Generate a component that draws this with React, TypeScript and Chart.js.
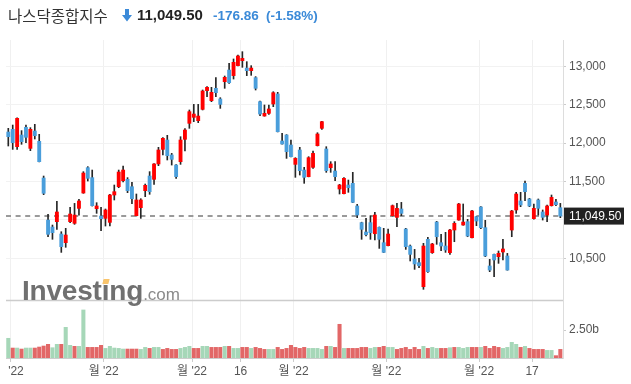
import React, { useEffect, useRef } from 'react';
import { Chart, registerables } from 'chart.js';

Chart.register(...registerables);

// ---- data ----
const opens = [12144,12179,11953,12105,12205,11931,12157,12023,11545,10998,10907,10977,10816,10703,10977,10955,11150,11350,11680,11550,11146,11050,11020,10968,11324,11432,11510,11528,11432,11055,11159,11380,11571,11528,11728,11918,12040,11845,11714,11758,12049,12257,12335,12292,12439,12682,12552,12713,12574,12799,12951,12878,13008,13073,12977,12943,12852,12539,12352,12387,12509,12639,12027,12105,11975,11723,11910,11649,11563,11684,11966,12192,11923,11680,11636,11402,11341,11454,11476,11181,10964,10842,10964,10820,10903,10703,10664,11055,11033,11142,10881,10660,10491,10443,10130,10747,10573,10972,10703,10660,10573,10868,10998,10933,10977,10768,11042,11168,10899,10400,10551,10521,10582,10530,10868,11129,11246,11476,11272,11016,11259,11103,11063,11185,11233,11159];
const highs = [12192,12235,12330,12162,12235,12201,12244,12114,11571,11072,10933,11241,10846,10890,11163,11215,11267,11628,11693,11649,11224,11163,11142,11333,11454,11649,11701,11550,11489,11337,11276,11467,11628,11732,11945,12070,12101,11866,11720,12083,12188,12431,12504,12504,12691,12734,12726,12852,12591,12873,13038,13095,13147,13190,13060,13008,12865,12548,12496,12496,12669,12661,12127,12110,12040,11810,11945,11684,11823,11897,12135,12283,11953,11758,11758,11463,11550,11519,11619,11202,10970,11020,11055,11098,10908,10890,10881,11194,11215,11228,10890,10673,10616,10500,10695,10773,10695,10981,10812,10838,10877,10977,11215,11207,11007,11124,11045,11172,10994,10486,10555,10595,10747,10564,11124,11359,11359,11506,11280,11207,11272,11129,11194,11324,11267,11215];
const lows = [11962,11918,11918,11984,12005,11901,12053,11755,11328,10781,10747,10877,10577,10643,10964,10942,11063,11346,11506,11180,11085,10860,10920,10920,11259,11419,11493,11354,11211,11050,11020,11302,11333,11463,11706,11845,11780,11714,11541,11723,11897,12192,12279,12266,12431,12604,12539,12604,12452,12713,12778,12834,13003,12986,12878,12882,12691,12357,12350,12374,12474,12145,11985,11801,11820,11554,11584,11476,11560,11671,11962,12179,11619,11619,11510,11337,11338,11359,11225,11029,10747,10790,10747,10738,10629,10575,10660,11050,10912,11055,10616,10465,10356,10378,10096,10317,10564,10682,10599,10577,10551,10716,10995,10930,10781,10765,10925,10886,10521,10326,10261,10434,10478,10345,10781,11085,11172,11250,11172,11010,11063,10998,10977,11180,11185,11029];
const closes = [12083,12005,12322,12018,12075,12179,12096,11758,11346,10812,10833,11103,10651,10803,11076,11063,11246,11610,11541,11185,11181,11016,11129,11324,11367,11623,11649,11380,11276,11259,11259,11450,11367,11728,11910,12062,11836,11788,11563,12040,12170,12409,12378,12352,12678,12726,12661,12656,12504,12856,12786,13051,13134,13103,12943,12977,12713,12378,12387,12444,12656,12148,11988,11888,11823,11801,11641,11554,11810,11866,12118,12279,11641,11728,11563,11454,11541,11419,11228,11063,10877,10807,10833,11063,10747,10577,10816,11185,11150,11085,10651,10551,10426,10404,10660,10326,10686,10781,10660,10608,10868,10955,11207,10972,10790,11116,10985,10899,10530,10347,10478,10564,10621,10347,11116,11337,11194,11367,11181,11150,11150,11033,11181,11293,11198,11049.5];
const volumes = [1.76,0.89,0.89,0.80,0.89,0.89,0.89,0.98,1.07,1.22,0.92,1.22,1.22,2.74,1.13,1.04,1.04,4.29,0.95,0.95,0.95,1.13,0.86,1.04,0.89,0.86,0.80,0.80,0.80,0.80,0.77,0.95,0.86,0.95,0.95,0.77,0.86,0.77,0.77,0.86,0.95,1.04,0.86,0.86,1.04,1.04,0.95,0.95,0.95,1.04,1.04,0.86,0.86,0.95,0.95,0.86,0.95,0.86,0.77,0.77,0.77,0.95,0.77,0.86,1.13,0.95,0.86,0.95,0.86,0.86,0.86,0.77,1.04,1.04,0.95,3.01,0.86,0.86,0.86,0.86,0.95,0.95,0.86,0.95,0.95,1.04,0.95,0.95,0.77,0.86,0.95,0.77,0.95,0.77,1.04,0.86,0.95,0.86,0.86,0.86,0.92,0.95,0.95,0.86,0.95,0.95,0.95,0.95,1.04,0.86,1.04,0.95,0.86,0.95,1.40,1.22,0.95,1.04,0.86,0.77,0.77,0.77,0.68,0.68,0.21,0.77];
const volumeUp = [1,0,1,0,1,1,0,0,0,0,1,1,0,1,1,0,1,1,0,0,0,0,1,1,1,1,1,0,0,0,1,1,0,1,1,0,0,0,0,1,1,1,0,0,1,1,0,0,0,1,0,1,1,0,0,1,0,0,0,1,1,0,0,0,0,0,0,0,1,1,1,1,0,1,0,0,1,0,0,0,0,0,1,1,0,0,1,1,0,0,0,0,0,0,1,0,1,1,0,0,1,0,1,1,1,0,0,1,0,0,0,0,1,1,1,1,0,1,0,0,0,0,1,1,0,0];

const xTickPositions = [0.6, 21.6, 41.6, 52.6, 64.6, 85.6, 106.6, 118.6];
const xTickLabels = ["   '22", "월 '22", "월 '22", "16", "월 '22", "월 '22", "월 '22", "17"];
const priceTicks = [10500, 11000, 11500, 12000, 12500, 13000];
const volumeTicks = [2.5];
const lastPriceText = '11,049.50';
const changeText = '-176.86';
const changePctText = '(-1.58%)';
const titleText = '나스닥종합지수';

const UP = '#ff0000';
const DOWN = '#4a9edb';
const VOL_UP = '#a6d7b8';
const VOL_DOWN = '#e26767';
const FONT = "'Liberation Sans', Arial, 'Noto Sans CJK KR', sans-serif";

export default function App() {
  const ref = useRef<HTMLCanvasElement | null>(null);

  useEffect(() => {
    document.body.style.margin = '0';
    const canvas = ref.current;
    if (!canvas) return;
    const idx = closes.map((_, i) => i);
    const lastClose = closes[closes.length - 1];

    const overlay = {
      id: 'overlay',
      beforeDatasetsDraw(chart: any) {
        const { ctx, chartArea, scales } = chart;
        const py = scales.y.getPixelForValue(lastClose);
        ctx.save();
        ctx.strokeStyle = '#9a9a9a';
        ctx.lineWidth = 2;
        ctx.setLineDash([5, 4.6]);
        ctx.beginPath();
        ctx.moveTo(chartArea.left, py);
        ctx.lineTo(chartArea.right, py);
        ctx.stroke();
        ctx.setLineDash([]);
        const vy = Math.round(scales.yv.top) + 0.5;
        ctx.strokeStyle = '#cccccc';
        ctx.lineWidth = 1.5;
        ctx.beginPath();
        ctx.moveTo(chartArea.left, vy);
        ctx.lineTo(chartArea.right, vy);
        ctx.stroke();
        ctx.restore();
      },
      afterDraw(chart: any) {
        const { ctx, chartArea, scales } = chart;
        const py = scales.y.getPixelForValue(lastClose);
        ctx.save();
        ctx.fillStyle = '#222222';
        ctx.fillRect(chartArea.right + 1, py - 8.5, 60, 17);
        ctx.fillStyle = '#ffffff';
        ctx.font = '12px ' + FONT;
        ctx.textBaseline = 'middle';
        ctx.textAlign = 'left';
        ctx.fillText(lastPriceText, chartArea.right + 6, py + 0.5);
        ctx.restore();
      },
    };

    const chart = new Chart(canvas, {
      type: 'bar',
      data: {
        datasets: [
          {
            label: 'body',
            data: idx.map((i) => ({ x: i, y: [opens[i], closes[i]] })) as any,
            backgroundColor: idx.map((i) => (closes[i] >= opens[i] ? UP : DOWN)),
            barThickness: 3.2,
            minBarLength: 1.5,
            grouped: false,
            xAxisID: 'x',
            yAxisID: 'y',
            order: 0,
          },
          {
            label: 'wick',
            data: idx.map((i) => ({ x: i, y: [lows[i], highs[i]] })) as any,
            backgroundColor: '#262626',
            barThickness: 1,
            grouped: false,
            xAxisID: 'x',
            yAxisID: 'y',
            order: 1,
          },
          {
            label: 'volume',
            data: idx.map((i) => ({ x: i, y: volumes[i] })) as any,
            backgroundColor: idx.map((i) => (volumeUp[i] ? VOL_UP : VOL_DOWN)),
            barThickness: 3.4,
            grouped: false,
            xAxisID: 'x',
            yAxisID: 'yv',
            order: 2,
          },
        ],
      },
      options: {
        responsive: false,
        devicePixelRatio: 1,
        animation: false,
        layout: { padding: { top: 40, left: 6, right: 0, bottom: 0 } },
        plugins: { legend: { display: false }, tooltip: { enabled: false } },
        scales: {
          x: {
            type: 'linear',
            position: 'bottom',
            min: -0.52,
            max: 125.6,
            offset: false,
            grid: { offset: false, color: '#f0f0f0', tickColor: '#cccccc', tickLength: 4 },
            border: { color: '#cccccc' },
            ticks: {
              autoSkip: false,
              maxRotation: 0,
              padding: 2,
              color: '#555555',
              font: { family: FONT, size: 12 },
              callback: (_v: any, i: number) => xTickLabels[i],
            },
            afterBuildTicks: (axis: any) => {
              axis.ticks = xTickPositions.map((v) => ({ value: v }));
            },
            afterFit: (axis: any) => {
              axis.height = 26;
              axis.paddingLeft = 0;
              axis.paddingRight = 0;
            },
          },
          y: {
            type: 'linear',
            position: 'right',
            stack: 'panes',
            stackWeight: 260,
            min: 9957,
            max: 13342,
            grid: { color: '#f2f2f2', tickColor: '#cccccc', tickLength: 3 },
            border: { color: '#dddddd' },
            ticks: {
              padding: 3,
              color: '#555555',
              font: { family: FONT, size: 12 },
              callback: (v: any) => Number(v).toLocaleString('en-US'),
            },
            afterBuildTicks: (axis: any) => {
              axis.ticks = priceTicks.map((v) => ({ value: v }));
            },
            afterFit: (axis: any) => {
              axis.width = 68;
              axis.paddingTop = 0;
              axis.paddingBottom = 0;
            },
          },
          yv: {
            type: 'linear',
            position: 'right',
            stack: 'panes',
            stackWeight: 58,
            min: 0,
            max: 5.18,
            grid: { drawOnChartArea: false, tickColor: '#cccccc', tickLength: 3 },
            border: { color: '#dddddd' },
            ticks: {
              padding: 3,
              color: '#555555',
              font: { family: FONT, size: 12 },
              callback: (v: any) => Number(v).toFixed(2) + 'b',
            },
            afterBuildTicks: (axis: any) => {
              axis.ticks = volumeTicks.map((v) => ({ value: v }));
            },
            afterFit: (axis: any) => {
              axis.width = 68;
              axis.paddingTop = 0;
              axis.paddingBottom = 0;
            },
          },
        },
      } as any,
      plugins: [overlay],
    });
    return () => chart.destroy();
  }, []);

  const blue = '#3b8ad8';
  return (
    <div style={{ position: 'relative', width: 631, height: 384, overflow: 'hidden', background: '#ffffff' }}>
      <canvas ref={ref} width={631} height={384} style={{ position: 'absolute', left: 0, top: 0 }} />
      <span style={{ position: 'absolute', left: 8, top: 5, lineHeight: '20px', fontSize: 15.5, color: '#333333', fontFamily: "'Noto Sans CJK KR', sans-serif", whiteSpace: 'nowrap' }}>{titleText}</span>
      <svg style={{ position: 'absolute', left: 122, top: 9 }} width={10} height={13} viewBox="0 0 10 13">
        <polygon points="3,0 7,0 7,6 10,6 5,12.5 0,6 3,6" fill={blue} />
      </svg>
      <span style={{ position: 'absolute', left: 137, top: 5, lineHeight: '20px', fontSize: 15, fontWeight: 'bold', color: '#222222', fontFamily: FONT, whiteSpace: 'nowrap' }}>{lastPriceText}</span>
      <span style={{ position: 'absolute', left: 213, top: 6, lineHeight: '20px', fontSize: 13.5, fontWeight: 'bold', color: blue, fontFamily: FONT, whiteSpace: 'nowrap' }}>{changeText}</span>
      <span style={{ position: 'absolute', left: 266, top: 6, lineHeight: '20px', fontSize: 13.5, fontWeight: 'bold', color: blue, fontFamily: FONT, whiteSpace: 'nowrap' }}>{changePctText}</span>
      <div style={{ position: 'absolute', left: 22, top: 277, lineHeight: '28px', whiteSpace: 'nowrap', pointerEvents: 'none', fontFamily: FONT }}>
        <span style={{ fontSize: 28, fontWeight: 'bold', color: '#707070', letterSpacing: -0.2 }}>Investing</span>
        <span style={{ fontSize: 17, color: '#8a8a8a' }}>.com</span>
      </div>
      <div style={{ position: 'absolute', left: 103, top: 279, width: 6, height: 5, background: '#f9c46b', transform: 'skewX(-15deg)', pointerEvents: 'none' }} />
    </div>
  );
}
